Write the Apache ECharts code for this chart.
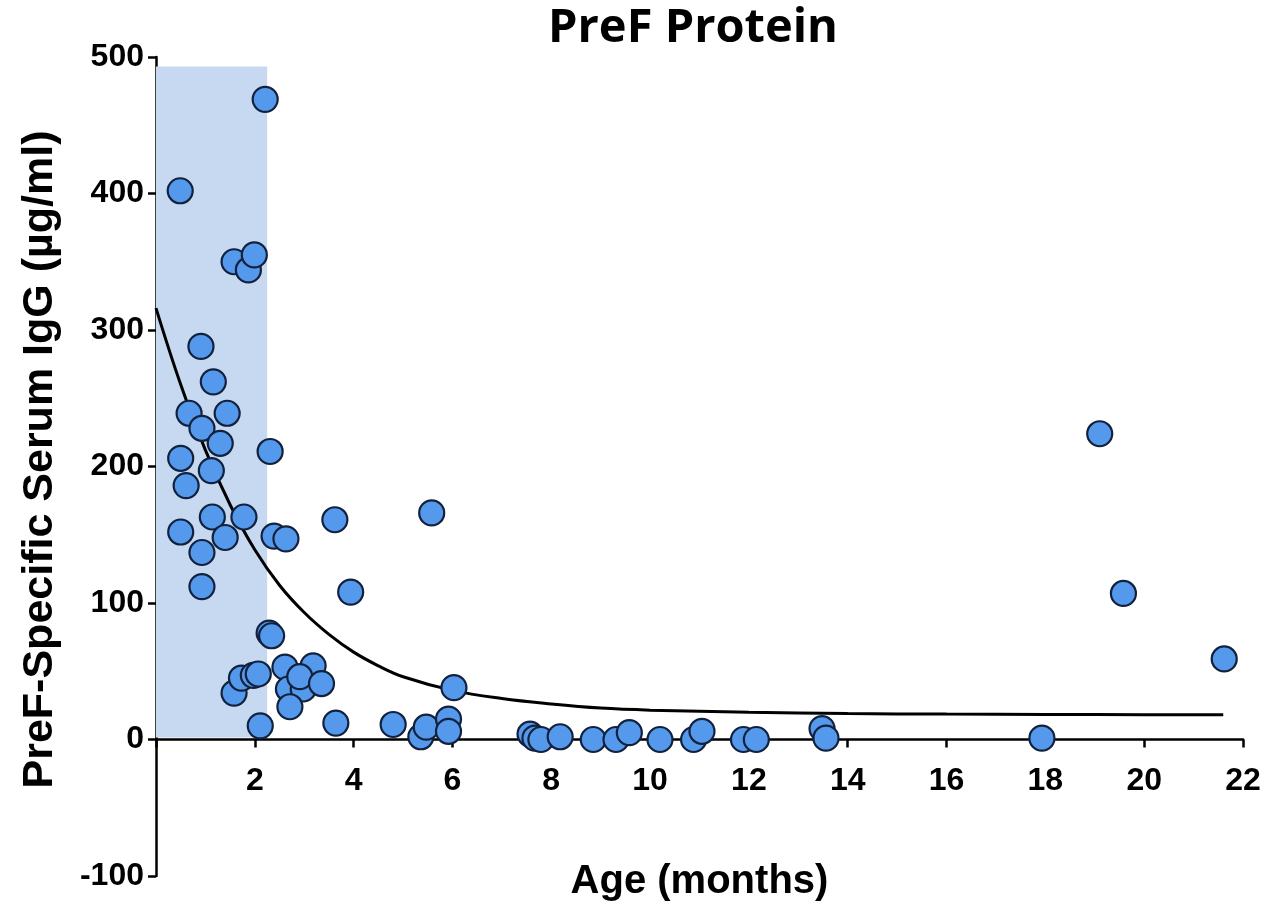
<!DOCTYPE html>
<html>
<head>
<meta charset="utf-8">
<title>PreF Protein</title>
<script src="https://cdn.jsdelivr.net/npm/echarts@6/dist/echarts.min.js"></script>
<style>
  html, body { margin: 0; padding: 0; background: #ffffff; }
  #chart { width: 1266px; height: 905px; }
</style>
</head>
<body>
<div id="chart"></div>
<script>
// Age (months) and PreF-specific serum IgG (µg/ml) per subject
const ageMonths = [
  2.21, 0.49, 1.58, 1.87, 1.99, 0.91, 1.16, 0.67, 1.44, 0.93,
  1.30, 0.50, 2.31, 1.12, 0.61, 1.14, 1.78, 0.50, 1.40, 2.39,
  2.63, 0.93, 0.93, 3.62, 5.58, 3.94, 2.29, 2.34, 1.58, 1.73,
  1.97, 2.07, 2.61, 3.18, 2.68, 2.98, 2.91, 3.35, 2.71, 2.11,
  3.64, 4.80, 5.36, 5.47, 5.92, 5.92, 6.03, 7.57, 7.67, 7.79,
  8.18, 8.85, 9.31, 9.58, 10.20, 10.88, 11.05, 11.89, 12.15, 13.48,
  13.56, 17.93, 19.10, 19.58, 21.62
];
const igg = [
  469, 402, 350, 344, 355, 288, 262, 239, 239, 228,
  217, 206, 211, 197, 186, 163, 163, 152, 148, 149,
  147, 137, 112, 161, 166, 108, 78, 76, 34, 45,
  47, 48, 53, 54, 37, 37, 46, 41, 24, 10,
  12, 11, 2, 9, 15, 6, 38, 4, 1, 0,
  2, 0, 0, 5, 0, 0, 6, 0, 0, 8,
  1, 1, 224, 107, 59
];

// Decay curve through the cohort
const curveAge = [0, 0.5, 1, 1.5, 2, 2.5, 3, 3.5, 4, 4.5, 5, 6, 7, 8, 9, 10, 12, 14, 16, 18, 20, 21.6];
const curveIgG = [316, 260, 212, 172, 139, 113, 93, 77, 64, 54, 46, 36, 30, 26, 23, 21.5, 20, 19, 18.6, 18.4, 18.2, 18.2];

// Shaded window for the first months of life
const shadeAge = [0, 2.25];
const shadeIgG = [1.5, 493];

const xTicks = { min: 0, max: 22, interval: 2 };
const yTicks = { min: -100, max: 500, interval: 100 };

const points = ageMonths.map((a, i) => [a, igg[i]]);
const curve = curveAge.map((a, i) => [a, curveIgG[i]]);

const axisFont = '"Liberation Sans", Arial, sans-serif';

// Plot box; the age axis sits on the zero line of the IgG axis
const plotTop = 57, plotBottom = 29, plotHeight = 905 - plotTop - plotBottom;
const zeroOffset = -plotHeight * (0 - yTicks.min) / (yTicks.max - yTicks.min);

const chart = echarts.init(document.getElementById('chart'), null, { renderer: 'canvas' });
chart.setOption({
  backgroundColor: '#ffffff',
  animation: false,
  title: {
    text: 'PreF Protein',
    left: 688,
    top: 0,
    textAlign: 'center',
    textStyle: {
      fontFamily: '"Open Sans", "Noto Sans", sans-serif',
      fontWeight: 'bold',
      fontSize: 47,
      color: '#000000'
    }
  },
  grid: { left: 156, right: 23, top: plotTop, bottom: plotBottom, containLabel: false, outerBoundsMode: 'none' },
  xAxis: {
    type: 'value',
    position: 'bottom',
    offset: zeroOffset,
    min: xTicks.min,
    max: xTicks.max,
    interval: xTicks.interval,
    name: 'Age (months)',
    nameLocation: 'middle',
    nameGap: 122,
    nameTextStyle: { fontFamily: axisFont, fontWeight: 'bold', fontSize: 40, color: '#000' },
    axisLine: { onZero: false, lineStyle: { color: '#000', width: 2.5 } },
    axisTick: { show: true, length: 8, inside: false, lineStyle: { color: '#000', width: 2.5 } },
    axisLabel: {
      margin: 26,
      fontFamily: axisFont,
      fontWeight: 'bold',
      fontSize: 32,
      color: '#000',
      formatter: v => (v === 0 ? '' : String(v))
    },
    splitLine: { show: false }
  },
  yAxis: {
    type: 'value',
    min: yTicks.min,
    max: yTicks.max,
    interval: yTicks.interval,
    name: 'PreF-Specific Serum IgG (\u00b5g/ml)',
    nameLocation: 'middle',
    nameGap: 94,
    nameTextStyle: { fontFamily: axisFont, fontWeight: 'bold', fontSize: 43, color: '#000', padding: [0, 0, 0, 14] },
    axisLine: { show: true, onZero: false, lineStyle: { color: '#000', width: 2.5 } },
    axisTick: { show: true, length: 8, inside: false, lineStyle: { color: '#000', width: 2.5 } },
    axisLabel: {
      margin: 12,
      fontFamily: axisFont,
      fontWeight: 'bold',
      fontSize: 32,
      color: '#000'
    },
    splitLine: { show: false }
  },
  series: [
    {
      name: 'window',
      type: 'line',
      data: [],
      silent: true,
      z: 1,
      markArea: {
        silent: true,
        itemStyle: { color: '#c6d9f1', opacity: 1 },
        data: [[
          { coord: [shadeAge[0], shadeIgG[0]] },
          { coord: [shadeAge[1], shadeIgG[1]] }
        ]]
      }
    },
    {
      name: 'fit',
      type: 'line',
      data: curve,
      smooth: 0.4,
      showSymbol: false,
      symbol: 'none',
      z: 2,
      lineStyle: { color: '#000000', width: 3 }
    },
    {
      name: 'subjects',
      type: 'scatter',
      data: points,
      symbol: 'circle',
      symbolSize: 25,
      z: 3,
      itemStyle: {
        color: '#5499ec',
        borderColor: '#12213d',
        borderWidth: 2.2,
        opacity: 1
      }
    }
  ]
});
</script>
</body>
</html>
